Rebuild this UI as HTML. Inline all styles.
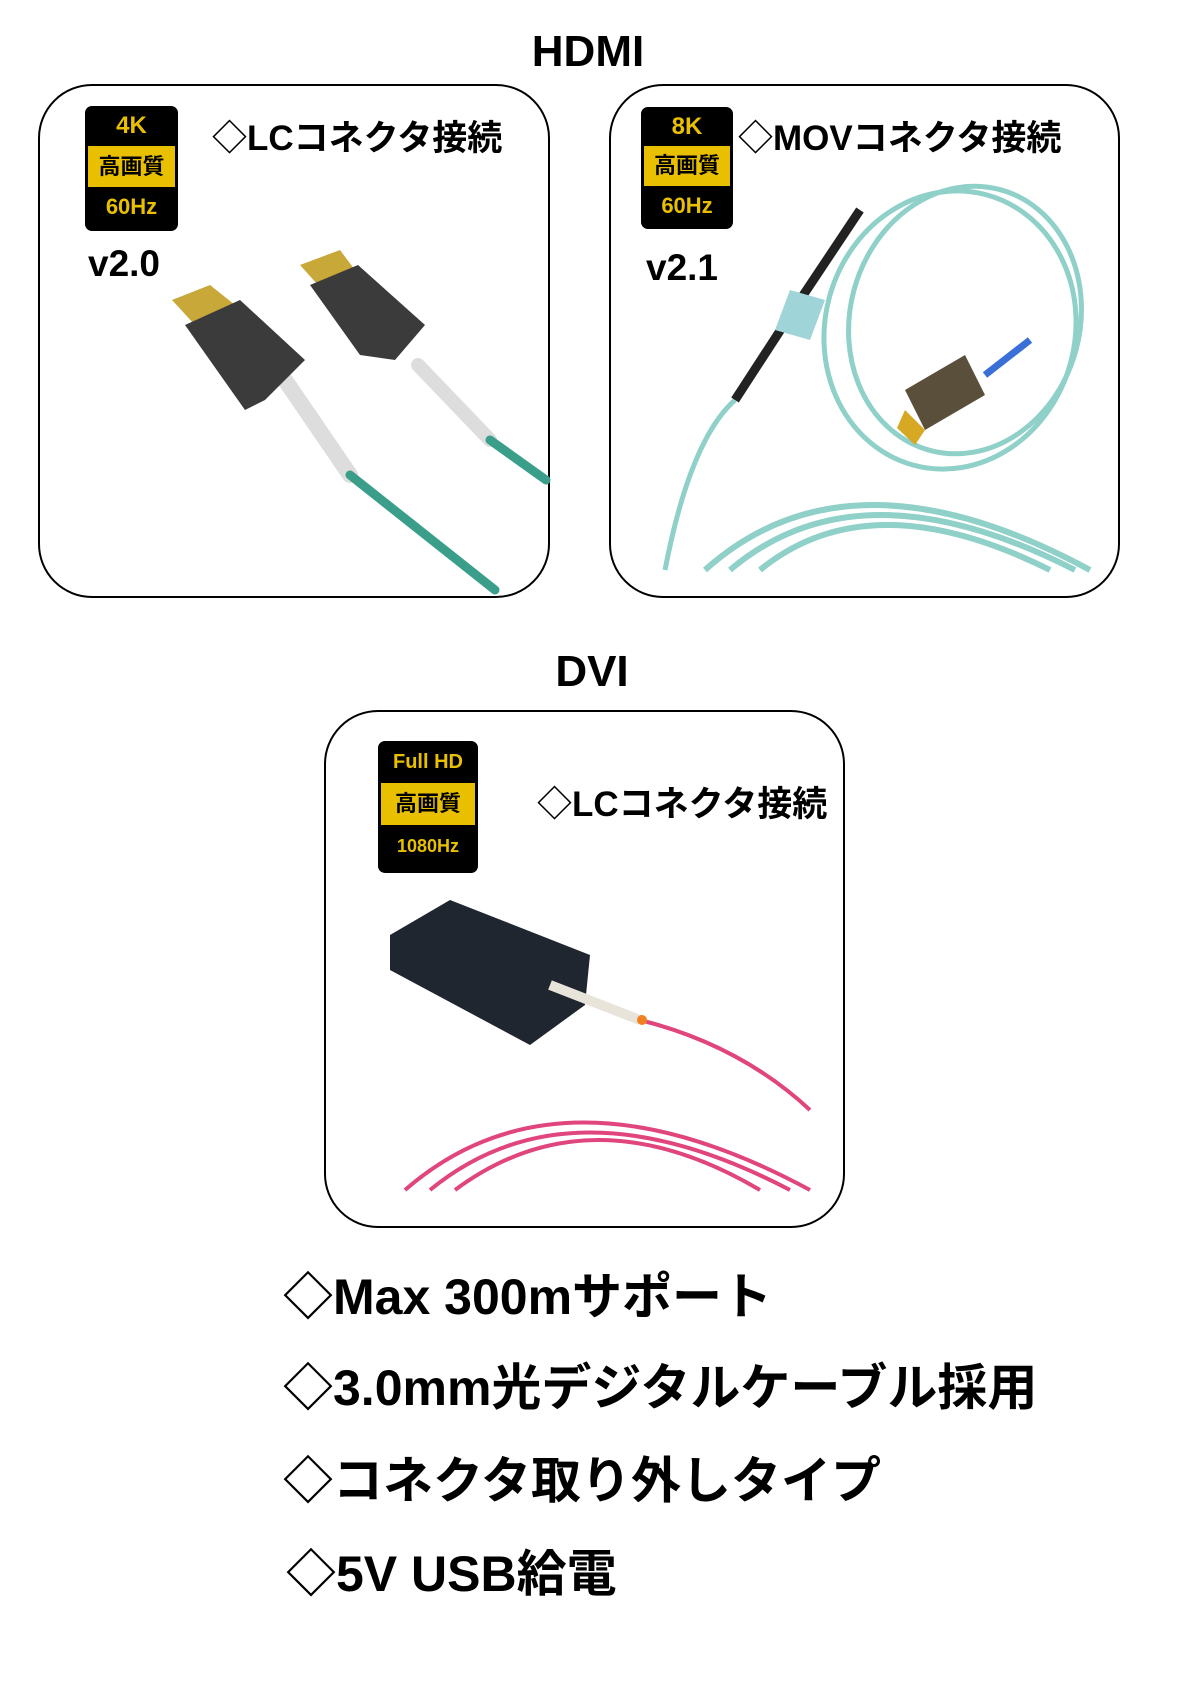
<!DOCTYPE html>
<html><head><meta charset="utf-8"><style>
body{margin:0;width:1191px;height:1684px;background:#fff;position:relative;overflow:hidden;font-family:"Liberation Sans","Noto Sans CJK JP",sans-serif;font-weight:bold;color:#000}
.a{position:absolute;white-space:nowrap;line-height:1}
.box{position:absolute;border:2.5px solid #000;border-radius:54px;box-sizing:border-box}
.badge{position:absolute;background:#000;border-radius:7px;color:#e8c000;text-align:center;font-weight:bold}
.badge .m{background:#e8c000;color:#000;margin:0 3px}
</style></head><body>
<div class="a" style="left:0;width:1176px;text-align:center;top:30px;font-size:44px">HDMI</div>
<div class="box" style="left:38px;top:84px;width:512px;height:514px"></div>
<div class="box" style="left:609px;top:84px;width:511px;height:514px"></div>

<div class="badge" style="left:85px;top:106px;width:93px;height:125px">
<div style="font-size:24px;height:40px;line-height:40px">4K</div>
<div class="m" style="font-size:22px;height:41px;line-height:41px">高画質</div>
<div style="font-size:22px;height:40px;line-height:40px">60Hz</div></div>
<div class="a" style="left:212px;top:121px;font-size:35px">◇LCコネクタ接続</div>
<div class="a" style="left:88px;top:245px;font-size:37px">v2.0</div>

<div class="badge" style="left:641px;top:107px;width:92px;height:122px">
<div style="font-size:24px;height:39px;line-height:39px">8K</div>
<div class="m" style="font-size:22px;height:40px;line-height:40px">高画質</div>
<div style="font-size:22px;height:39px;line-height:39px">60Hz</div></div>
<div class="a" style="left:738px;top:121px;font-size:35px">◇MOVコネクタ接続</div>
<div class="a" style="left:646px;top:249px;font-size:37px">v2.1</div>

<svg style="position:absolute;left:0;top:0" width="1191" height="1684">
<g stroke-linecap="round" fill="none">
<line x1="285" y1="380" x2="350" y2="475" stroke="#ddd" stroke-width="16"/>
<line x1="350" y1="475" x2="495" y2="590" stroke="#3a9e8a" stroke-width="9"/>
<line x1="418" y1="365" x2="490" y2="440" stroke="#ddd" stroke-width="14"/>
<line x1="490" y1="440" x2="546" y2="480" stroke="#3a9e8a" stroke-width="9"/>
</g>
<polygon points="172,300 210,285 235,305 195,325" fill="#c9a83a"/>
<polygon points="185,325 240,300 305,360 265,400 245,410" fill="#3b3b3b"/>
<polygon points="300,265 340,250 355,270 318,285" fill="#c9a83a"/>
<polygon points="310,285 358,265 425,325 395,360 360,355" fill="#3b3b3b"/>
<g fill="none" stroke="#8fd0c8" stroke-width="5">
<ellipse cx="950" cy="330" rx="125" ry="140" transform="rotate(15 950 330)"/>
<ellipse cx="965" cy="320" rx="115" ry="135" transform="rotate(15 965 320)"/>
<path d="M665 570 Q690 440 735 400"/>
<path d="M705 570 Q850 440 1090 570" stroke-width="6"/>
<path d="M730 570 Q860 460 1075 570" stroke-width="6"/>
<path d="M760 570 Q870 480 1050 570" stroke-width="6"/>
</g>
<path d="M735 400 L800 300 L860 210" stroke="#222" stroke-width="9" fill="none"/>
<polygon points="790,290 825,300 810,340 775,330" fill="#9fd5d8"/>
<polygon points="905,390 965,355 985,395 925,430" fill="#5a4f3a"/>
<polygon points="905,410 925,430 915,445 897,428" fill="#d7a824"/>
<line x1="985" y1="375" x2="1030" y2="340" stroke="#3a6fd8" stroke-width="7"/>
<g fill="none" stroke="#e0457d" stroke-width="4">
<path d="M640 1020 Q740 1045 810 1110"/>
<path d="M405 1190 Q560 1055 810 1190"/>
<path d="M430 1190 Q570 1075 790 1190"/>
<path d="M455 1190 Q590 1090 760 1190"/>
</g>
<polygon points="390,935 450,900 590,955 585,1005 530,1045 390,970" fill="#1f2630"/>
<line x1="550" y1="985" x2="640" y2="1020" stroke="#e8e4da" stroke-width="10"/>
<circle cx="642" cy="1020" r="5" fill="#f08020"/>
</svg>

<div class="a" style="left:0;width:1184px;text-align:center;top:650px;font-size:44px">DVI</div>
<div class="box" style="left:324px;top:710px;width:521px;height:518px"></div>
<div class="badge" style="left:378px;top:741px;width:100px;height:132px">
<div style="font-size:20px;height:42px;line-height:42px">Full HD</div>
<div class="m" style="font-size:22px;height:42px;line-height:42px">高画質</div>
<div style="font-size:18px;height:42px;line-height:42px">1080Hz</div></div>
<div class="a" style="left:537px;top:787px;font-size:35px">◇LCコネクタ接続</div>

<div class="a" style="left:283px;top:1272px;font-size:50px">◇Max 300mサポート</div>
<div class="a" style="left:283px;top:1363px;font-size:50px">◇3.0mm光デジタルケーブル採用</div>
<div class="a" style="left:283px;top:1456px;font-size:50px">◇コネクタ取り外しタイプ</div>
<div class="a" style="left:286px;top:1549px;font-size:50px">◇5V USB給電</div>
</body></html>
